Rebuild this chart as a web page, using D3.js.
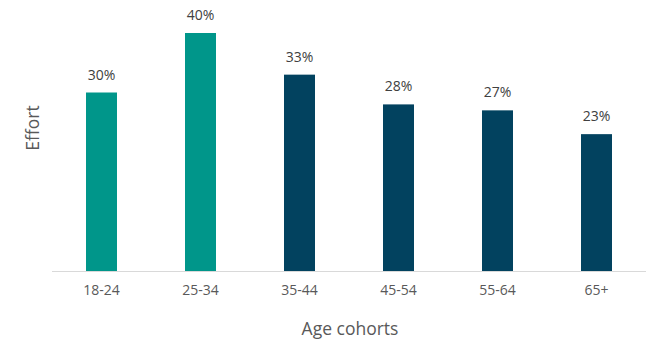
<!DOCTYPE html>
<html>
<head>
<meta charset="utf-8">
<script src="https://cdn.jsdelivr.net/npm/d3@7"></script>
<style>
  html, body { margin: 0; padding: 0; background: #fff; }
  svg { display: block; font-family: "Open Sans", sans-serif; }
</style>
</head>
<body>
<svg id="chart" width="651" height="343"></svg>
<script>
// Share of effort by age cohort
const categories = ["18-24", "25-34", "35-44", "45-54", "55-64", "65+"];
const values = [0.30, 0.40, 0.33, 0.28, 0.27, 0.23];
const highlighted = ["18-24", "25-34"];

const svg = d3.select("#chart");
const left = 52, right = 646, baseline = 271;

const x = d3.scaleBand()
  .domain(categories)
  .range([left, right])
  .paddingInner(0.687)
  .paddingOuter(0.3435);

const y = d3.scaleLinear()
  .domain([0, 0.40])
  .range([baseline, 33]);

const fmt = d3.format(".0%");

// bars
svg.append("g").selectAll("rect")
  .data(categories)
  .join("rect")
  .attr("x", d => x(d))
  .attr("width", x.bandwidth())
  .attr("y", (d, i) => y(values[i]))
  .attr("height", (d, i) => y(0) - y(values[i]))
  .attr("fill", d => highlighted.includes(d) ? "#00968A" : "#02425F");

// value labels
svg.append("g").selectAll("text")
  .data(categories)
  .join("text")
  .attr("x", d => x(d) + x.bandwidth() / 2)
  .attr("y", (d, i) => y(values[i]) - 13)
  .attr("text-anchor", "middle")
  .attr("font-size", 14)
  .attr("fill", "#404040")
  .text((d, i) => fmt(values[i]));

// category axis
const xAxis = svg.append("g")
  .attr("transform", `translate(0,${baseline})`)
  .call(d3.axisBottom(x).tickSize(0).tickPadding(14));
xAxis.select(".domain").attr("stroke", "#d9d9d9").attr("stroke-width", 1)
  .attr("d", `M${left},0.5H${right}`);
xAxis.selectAll("text")
  .attr("font-family", "Open Sans, sans-serif")
  .attr("font-size", 14)
  .attr("fill", "#595959");

// axis titles
svg.append("text")
  .attr("x", (left + right) / 2 + 1)
  .attr("y", 335)
  .attr("text-anchor", "middle")
  .attr("font-size", 17.5)
  .attr("fill", "#595959")
  .text("Age cohorts");

svg.append("text")
  .attr("transform", "translate(39,128) rotate(-90)")
  .attr("text-anchor", "middle")
  .attr("font-size", 17.5)
  .attr("fill", "#595959")
  .text("Effort");
</script>
</body>
</html>
